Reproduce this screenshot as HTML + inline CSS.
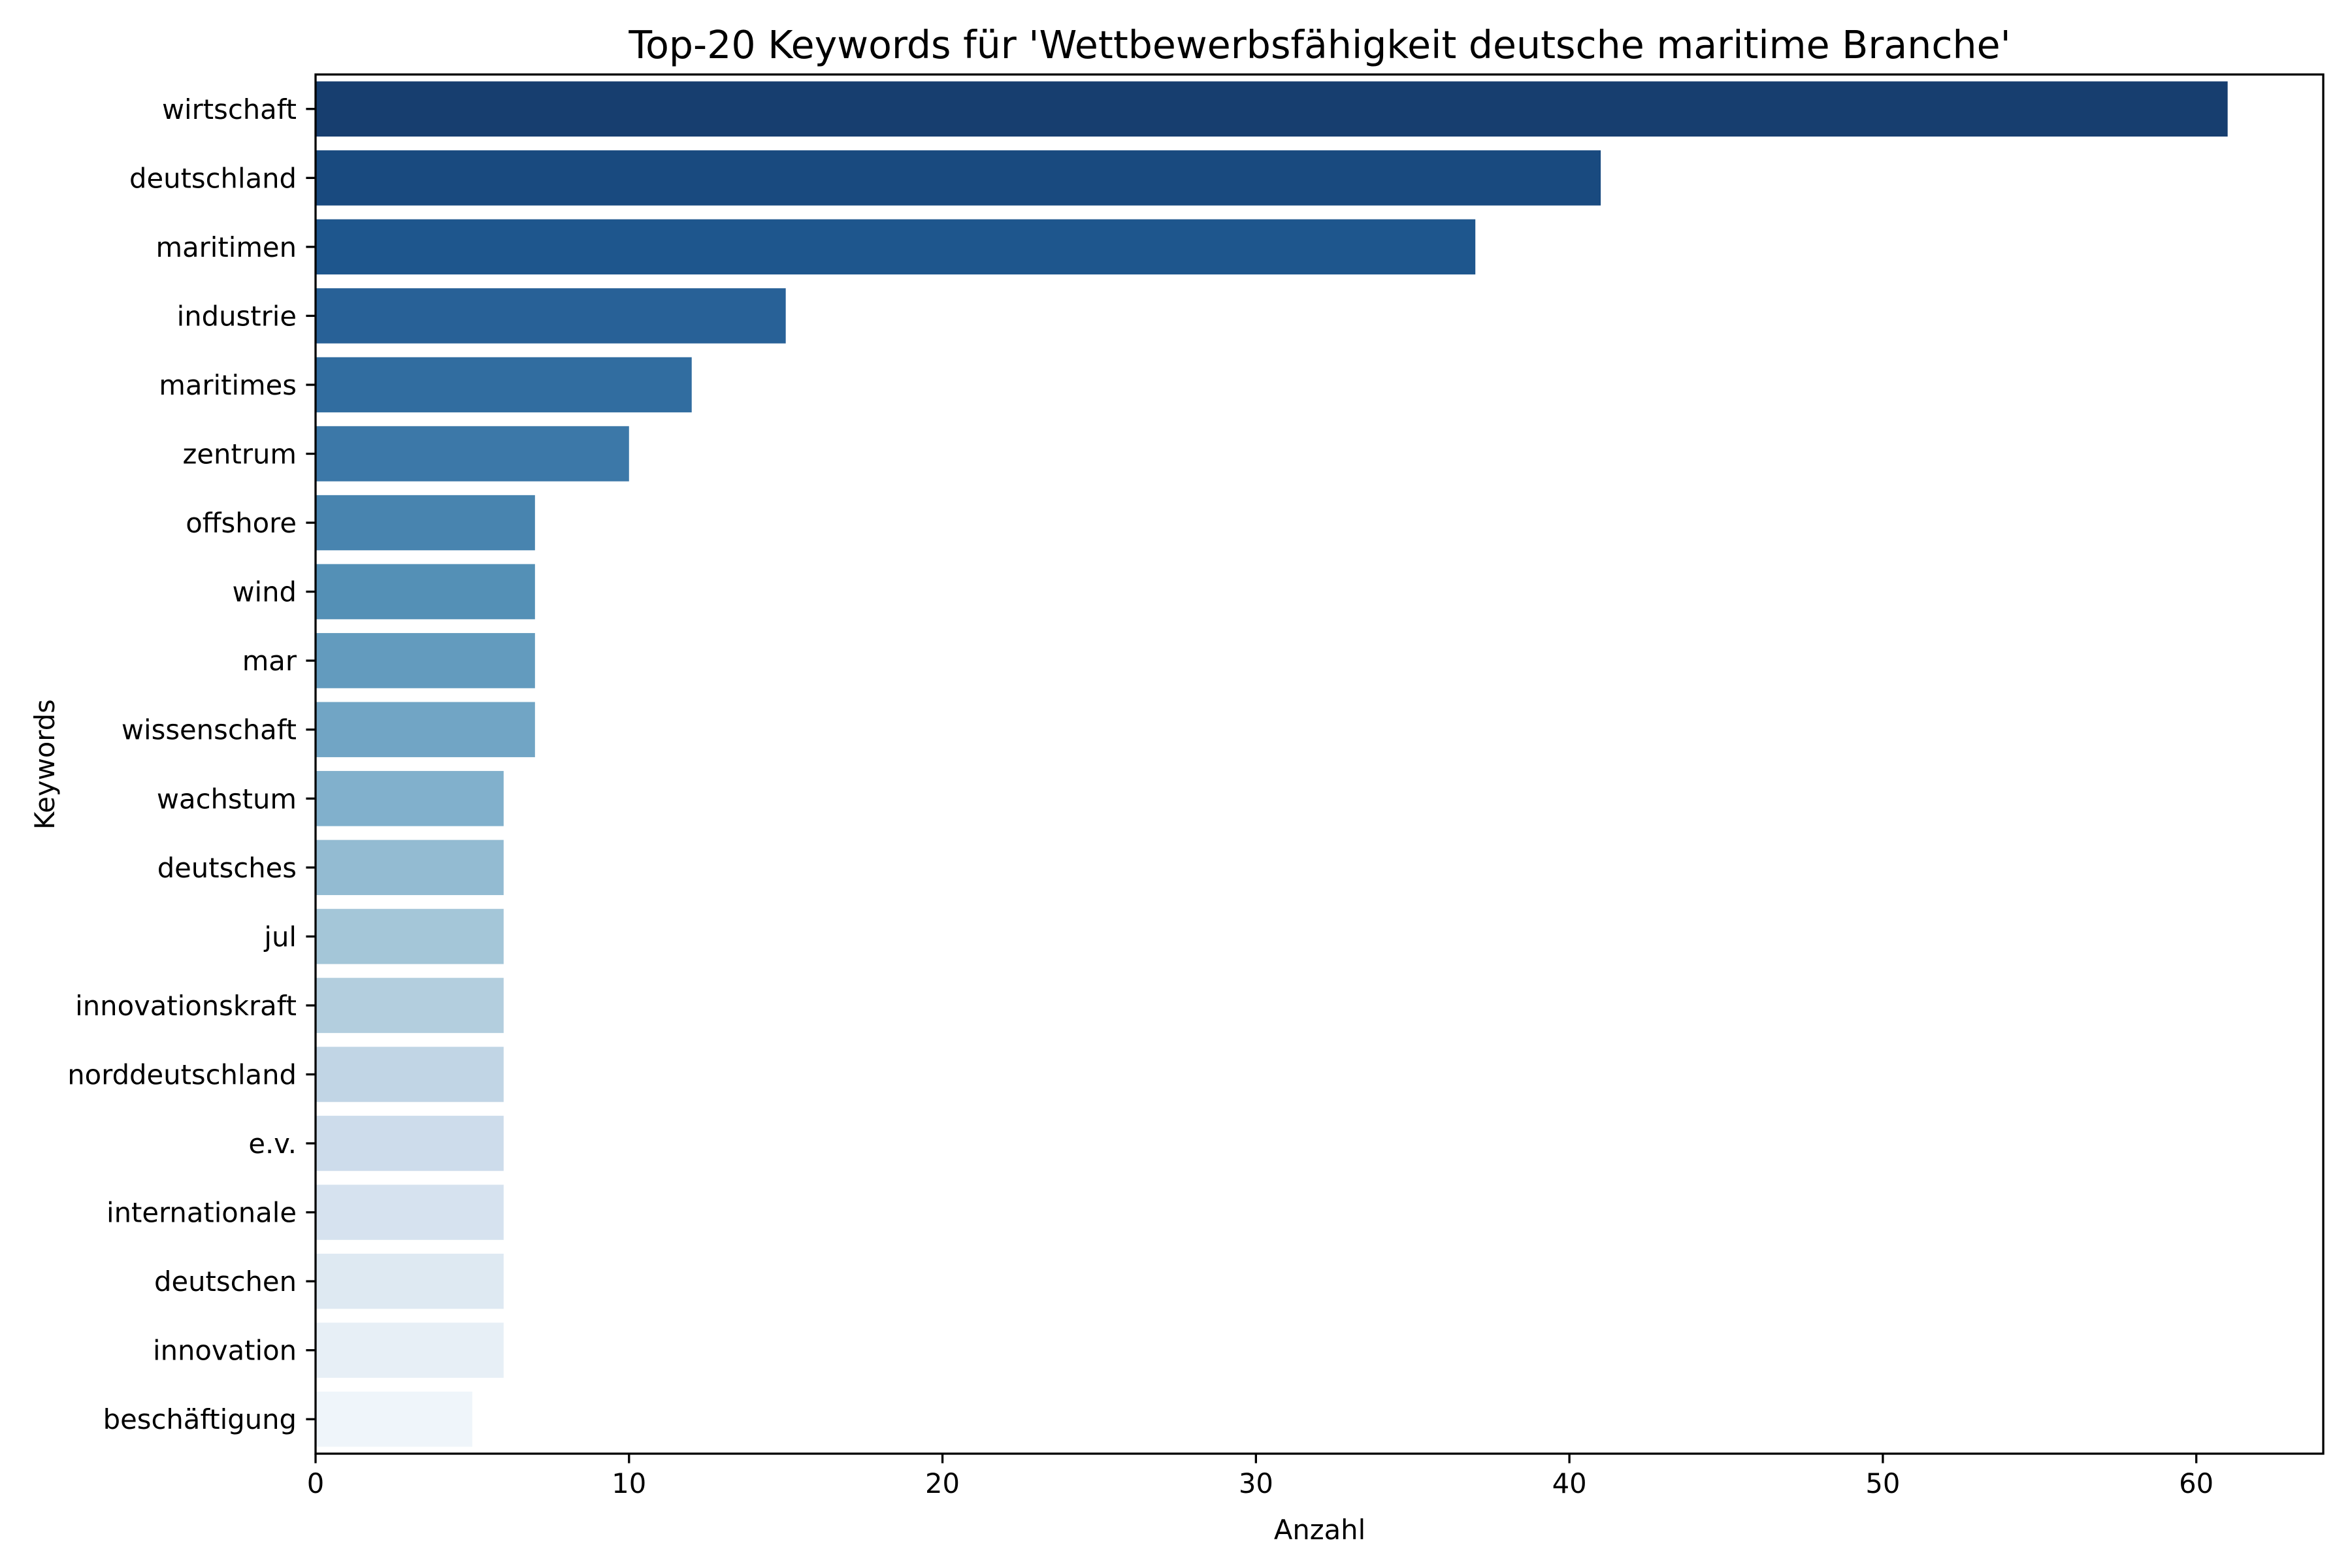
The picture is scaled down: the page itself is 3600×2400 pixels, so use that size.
<!DOCTYPE html>
<html><head><meta charset="utf-8"><style>
html,body{margin:0;padding:0;background:#fff;}
svg{display:block;font-family:"DejaVu Sans","Liberation Sans",sans-serif;}
</style></head><body>
<svg id="chart" width="3600" height="2400" viewBox="0 0 3600 2400" xmlns="http://www.w3.org/2000/svg">
<rect width="3600" height="2400" fill="#fff"/>
<text x="2020" y="89" font-size="58.5" text-anchor="middle" fill="#000">Top-20 Keywords für 'Wettbewerbsfähigkeit deutsche maritime Branche'</text>
<g id="bars"></g>
<g id="axes"></g>
<text x="2020" y="2356" font-size="41.7" text-anchor="middle" fill="#000">Anzahl</text>
<text x="0" y="0" font-size="41.7" text-anchor="middle" fill="#000" transform="translate(83,1170) rotate(-90)">Keywords</text>
</svg>
<script>
const categories = ["wirtschaft","deutschland","maritimen","industrie","maritimes","zentrum","offshore","wind","mar","wissenschaft","wachstum","deutsches","jul","innovationskraft","norddeutschland","e.v.","internationale","deutschen","innovation","beschäftigung"];
const counts = [61,41,37,15,12,10,7,7,7,7,6,6,6,6,6,6,6,6,6,5];
const xTicks = [0,10,20,30,40,50,60];

const L=483,R=3556,T=114,B=2225;
const xMax=64.05;
const xs=v=>L+(R-L)*v/xMax;
const band=(B-T)/categories.length;
const yc=i=>T+band*(i+0.5);
const NS="http://www.w3.org/2000/svg";
function mk(tag,attrs,parent){const e=document.createElementNS(NS,tag);for(const k in attrs)e.setAttribute(k,attrs[k]);parent.appendChild(e);return e;}

const stops=[[247,251,255],[222,235,247],[198,219,239],[158,202,225],[107,174,214],[66,146,198],[33,113,181],[8,81,156],[8,48,107]];
function blues(t){const p=t*8;const i=Math.min(7,Math.floor(p));const f=p-i;return stops[i].map((c,k)=>c+(stops[i+1][k]-c)*f);}
function desat(rgb,s){let [r,g,b]=rgb.map(v=>v/255);const mx=Math.max(r,g,b),mn=Math.min(r,g,b);let l=(mx+mn)/2,h=0,sat=0;
 if(mx!==mn){const d=mx-mn;sat=l>0.5?d/(2-mx-mn):d/(mx+mn);
  if(mx===r)h=((g-b)/d+(g<b?6:0));else if(mx===g)h=(b-r)/d+2;else h=(r-g)/d+4;h/=6;}
 sat*=s;
 function hue2(p,q,t){if(t<0)t+=1;if(t>1)t-=1;if(t<1/6)return p+(q-p)*6*t;if(t<1/2)return q;if(t<2/3)return p+(q-p)*(2/3-t)*6;return p;}
 let q=l<0.5?l*(1+sat):l+sat-l*sat,p=2*l-q;
 if(sat===0)return `rgb(${Math.round(l*255)},${Math.round(l*255)},${Math.round(l*255)})`;
 return `rgb(${Math.round(hue2(p,q,h+1/3)*255)},${Math.round(hue2(p,q,h)*255)},${Math.round(hue2(p,q,h-1/3)*255)})`;}
const n=categories.length;
const bars=document.getElementById('bars');
const axes=document.getElementById('axes');
counts.forEach((v,i)=>{
  const t=1-(i+1)/(n+1);
  const r=mk('rect',{x:xs(0),y:yc(i)-band*0.4,width:xs(v)-xs(0),height:band*0.8,fill:desat(blues(t),0.75)},bars);
  
  
  const tk=mk('line',{x1:L-14.6,x2:L,y1:yc(i),y2:yc(i),stroke:'#000','stroke-width':3.3},axes);
  
  
  const lb=mk('text',{x:L-29,y:yc(i)+15,'font-size':41.7,'text-anchor':'end',fill:'#000'},axes);
  lb.textContent=categories[i];
  
  
});
xTicks.forEach(v=>{
  const tk=mk('line',{x1:xs(v),x2:xs(v),y1:B,y2:B+14.6,stroke:'#000','stroke-width':3.3},axes);
  
  
  const lb=mk('text',{x:xs(v),y:B+60,'font-size':41.7,'text-anchor':'middle',fill:'#000'},axes);
  lb.textContent=String(v);
  
  
});
const fr=mk('rect',{x:L,y:T,width:R-L,height:B-T,fill:'none',stroke:'#000','stroke-width':3.3},axes);


</script>
</body></html>
